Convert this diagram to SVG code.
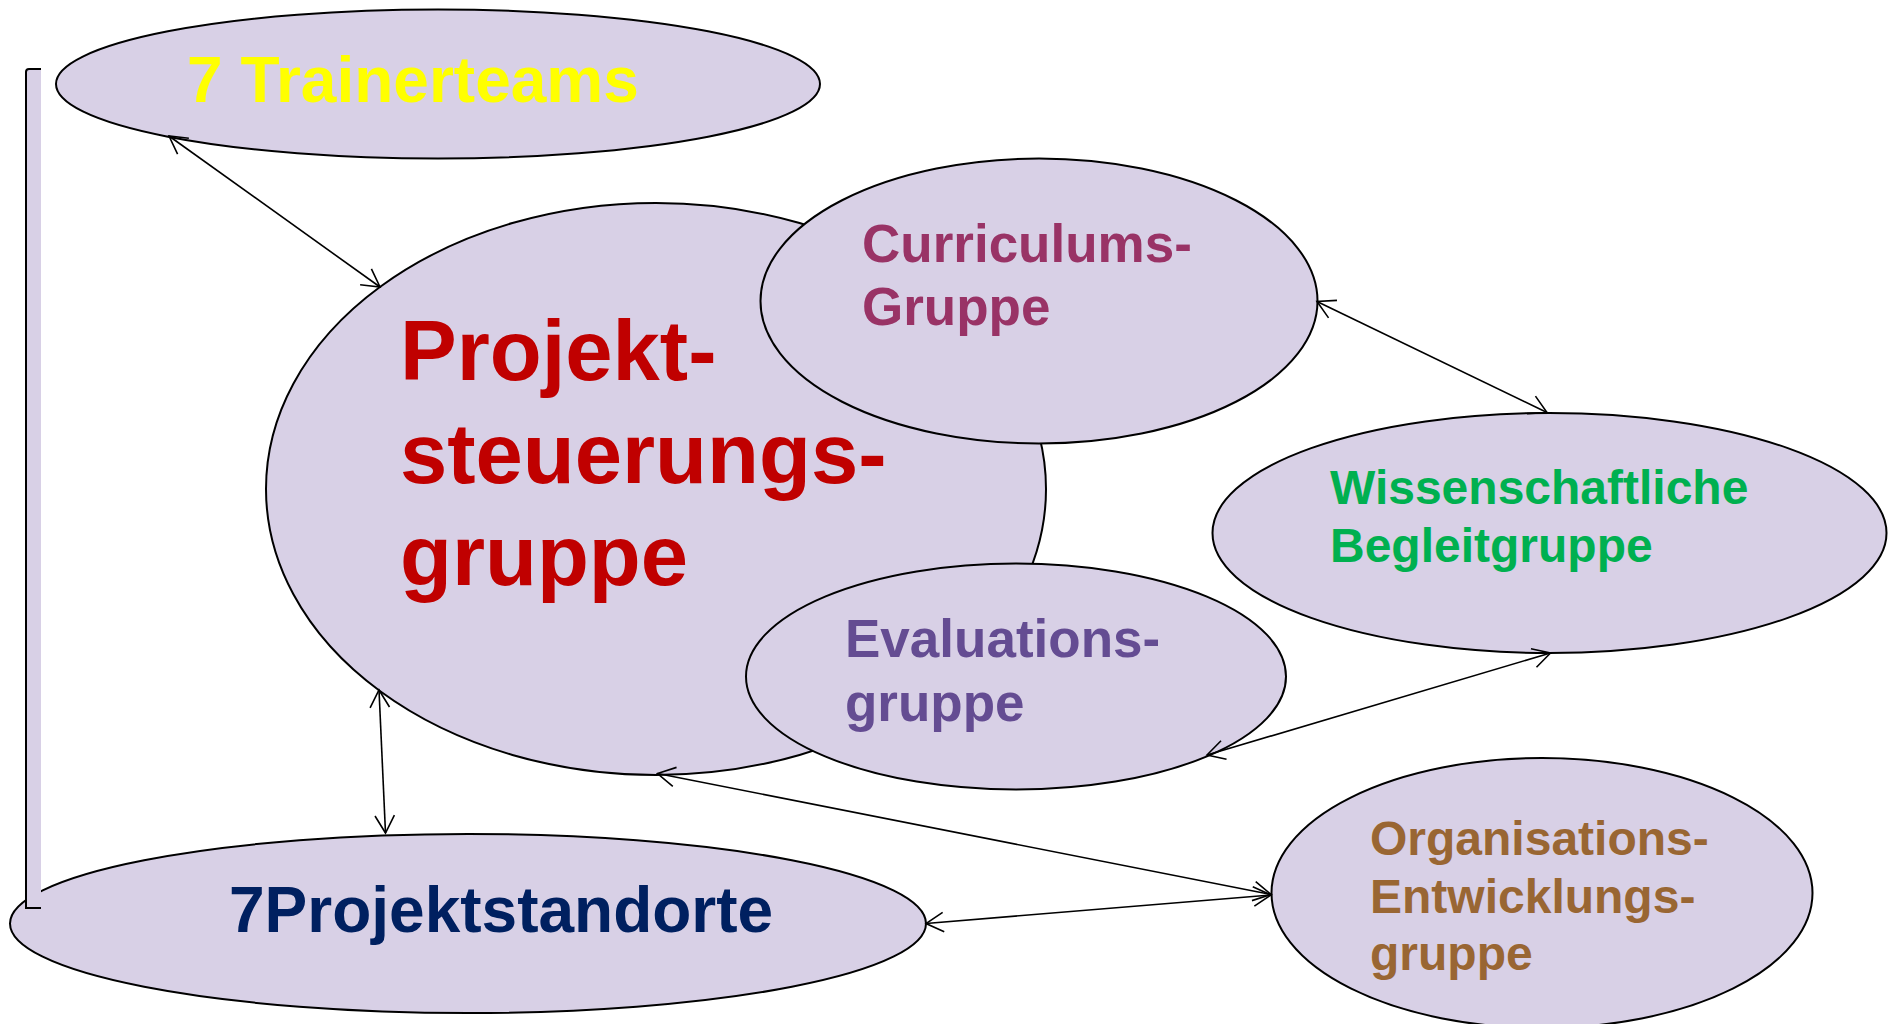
<svg xmlns="http://www.w3.org/2000/svg" width="1892" height="1024" viewBox="0 0 1892 1024">
<style>
.node{fill:#D8D0E6;stroke:#000;stroke-width:2}
.t{font-family:"Liberation Sans",Arial,sans-serif;font-weight:bold}
.con{fill:none;stroke:#000;stroke-width:1.6;marker-start:url(#arr);marker-end:url(#arr)}
</style>
<defs>
<marker id="arr" markerUnits="userSpaceOnUse" viewBox="-22 -12 24 24" markerWidth="24" markerHeight="24" refX="0" refY="0" orient="auto-start-reverse">
<path d="M-17.5,-9.7 L0,0 L-17.5,9.7" fill="none" stroke="#000" stroke-width="1.6"/>
</marker>
</defs>
<rect width="1892" height="1024" fill="#fff"/>
<g id="trainerteams">
<ellipse class="node" cx="438" cy="84" rx="382" ry="74.5"/>
<text class="t" x="187" y="102" font-size="64" fill="#FFFF00">7 Trainerteams</text>
</g>
<g id="projektsteuerungsgruppe">
<ellipse class="node" cx="656" cy="489" rx="390" ry="286"/>
<text class="t" font-size="85" fill="#C00000"><tspan x="400" y="380">Projekt-</tspan><tspan x="400" y="482.5">steuerungs-</tspan><tspan x="400" y="585">gruppe</tspan></text>
</g>
<g id="curriculumsgruppe">
<ellipse class="node" cx="1039" cy="301" rx="278.5" ry="142.5"/>
<text class="t" font-size="53" fill="#993366"><tspan x="862" y="261.5">Curriculums-</tspan><tspan x="862" y="325">Gruppe</tspan></text>
</g>
<g id="evaluationsgruppe">
<ellipse class="node" cx="1016" cy="676.5" rx="270" ry="113"/>
<text class="t" font-size="53" fill="#644C92"><tspan x="845" y="657">Evaluations-</tspan><tspan x="845" y="721">gruppe</tspan></text>
</g>
<g id="wissenschaftliche">
<ellipse class="node" cx="1549.5" cy="533" rx="337" ry="120"/>
<text class="t" font-size="48" fill="#00B050"><tspan x="1330" y="504">Wissenschaftliche</tspan><tspan x="1330" y="562">Begleitgruppe</tspan></text>
</g>
<g id="organisationsgruppe">
<ellipse class="node" cx="1542" cy="893" rx="270.5" ry="135"/>
<text class="t" font-size="48" fill="#996633"><tspan x="1370" y="855">Organisations-</tspan><tspan x="1370" y="913">Entwicklungs-</tspan><tspan x="1370" y="970">gruppe</tspan></text>
</g>
<g id="projektstandorte">
<ellipse class="node" cx="468" cy="923.5" rx="458" ry="89.5"/>
<text class="t" x="229" y="931.5" font-size="64" fill="#002060">7Projektstandorte</text>
</g>
<g id="bracket">
<path d="M41,69 L29,69 Q26,69 26,72 L26,908 L41,908" fill="#D8D0E6" stroke="#000" stroke-width="2"/>
</g>
<g id="connectors">
<path class="con" d="M169,136 L380,287"/>
<path class="con" d="M1317,301.5 L1547,412.5"/>
<path class="con" d="M1550.5,653 L1207,755"/>
<path class="con" d="M379,690 L385.5,833"/>
<path class="con" d="M657.5,773.5 L1271,894.5"/>
<path class="con" d="M926,923.5 L1271,895"/>
</g>
</svg>
